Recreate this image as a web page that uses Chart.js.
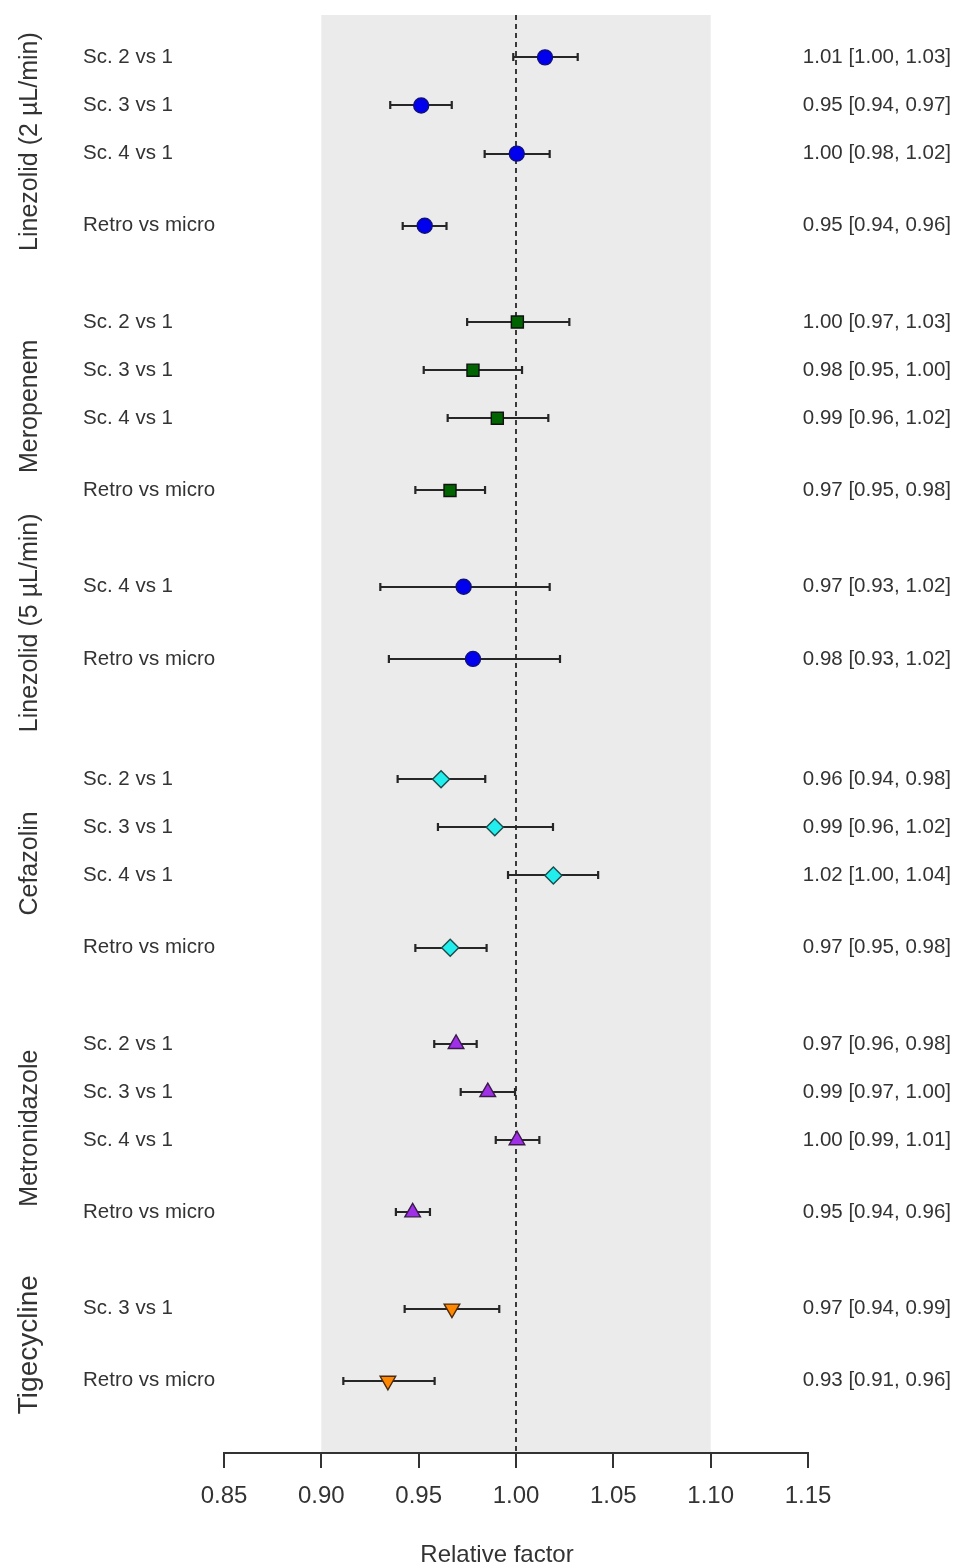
<!DOCTYPE html>
<html>
<head>
<meta charset="utf-8">
<title>Relative factor forest plot</title>
<script src="https://cdn.jsdelivr.net/npm/chart.js@4/dist/chart.umd.min.js"></script>
<style>
  html, body { margin: 0; padding: 0; background: #ffffff; }
  #wrap { width: 956px; height: 1567px; position: relative; }
</style>
</head>
<body>
<div id="wrap"><canvas id="forest" width="956" height="1567"></canvas></div>
<script>
// ---- data ----
const drugs = ['Linezolid (2 µL/min)', 'Meropenem', 'Linezolid (5 µL/min)', 'Cefazolin', 'Metronidazole', 'Tigecycline'];

const comparisons = [
  'Sc. 2 vs 1', 'Sc. 3 vs 1', 'Sc. 4 vs 1', 'Retro vs micro',
  'Sc. 2 vs 1', 'Sc. 3 vs 1', 'Sc. 4 vs 1', 'Retro vs micro',
  'Sc. 4 vs 1', 'Retro vs micro',
  'Sc. 2 vs 1', 'Sc. 3 vs 1', 'Sc. 4 vs 1', 'Retro vs micro',
  'Sc. 2 vs 1', 'Sc. 3 vs 1', 'Sc. 4 vs 1', 'Retro vs micro',
  'Sc. 3 vs 1', 'Retro vs micro'
];

// drug index of each row
const rowDrug = [0, 0, 0, 0, 1, 1, 1, 1, 2, 2, 3, 3, 3, 3, 4, 4, 4, 4, 5, 5];

// row slot on the vertical axis (top = 0)
const rowPos = [0, 1, 2, 3.5, 5.5, 6.5, 7.5, 9, 11, 12.5, 15, 16, 17, 18.5, 20.5, 21.5, 22.5, 24, 26, 27.5];

const estimate = [
  1.0149, 0.9513, 1.0004, 0.9531,
  1.0007, 0.9779, 0.9904, 0.9661,
  0.9731, 0.9779,
  0.9615, 0.9891, 1.0192, 0.9662,
  0.9692, 0.9855, 1.0005, 0.9469,
  0.9671, 0.9342
];
const lower = [
  0.9986, 0.9354, 0.9839, 0.9418,
  0.9749, 0.9526, 0.9649, 0.9483,
  0.9303, 0.9347,
  0.9392, 0.9599, 0.9959, 0.9483,
  0.9580, 0.9716, 0.9896, 0.9383,
  0.9428, 0.9113
];
const upper = [
  1.0317, 0.9670, 1.0173, 0.9643,
  1.0274, 1.0031, 1.0166, 0.9841,
  1.0173, 1.0226,
  0.9842, 1.0190, 1.0422, 0.9849,
  0.9798, 0.9995, 1.0120, 0.9558,
  0.9914, 0.9582
];

const tickValues = [0.85, 0.90, 0.95, 1.00, 1.05, 1.10, 1.15];
const tickLabels = ['0.85', '0.90', '0.95', '1.00', '1.05', '1.10', '1.15'];
const refValue = 1.00;
const marginLow = 0.90;
const marginHigh = 1.10;
const xTitle = 'Relative factor';

// ---- styles per drug ----
const FONT = '"Liberation Sans", Arial, Helvetica, sans-serif';
const drugStyle = [
  { pointStyle: 'circle',   rotation: 0,   radius: 7.5, fill: '#0000EE', edge: '#10107a' },
  { pointStyle: 'rect',     rotation: 0,   radius: 8.5, fill: '#006400', edge: '#111111' },
  { pointStyle: 'circle',   rotation: 0,   radius: 7.5, fill: '#0000EE', edge: '#10107a' },
  { pointStyle: 'rectRot',  rotation: 0,   radius: 8.5, fill: '#22EEEE', edge: '#1d4a4a' },
  { pointStyle: 'triangle', rotation: 0,   radius: 9,   fill: '#A030E8', edge: '#3a1a4a' },
  { pointStyle: 'triangle', rotation: 180, radius: 9,   fill: '#FF8800', edge: '#4a2a10' }
];
const groupFontSize = [25, 25, 25, 25, 25, 28];

const fmt = v => v.toFixed(2);

const datasets = drugs.map((name, d) => {
  const st = drugStyle[d];
  const pts = [];
  rowPos.forEach((p, i) => { if (rowDrug[i] === d) pts.push({ x: estimate[i], y: p }); });
  return {
    label: name,
    data: pts,
    pointStyle: st.pointStyle,
    rotation: st.rotation,
    pointRadius: st.radius,
    pointBackgroundColor: st.fill,
    pointBorderColor: st.edge,
    pointBorderWidth: 1.4,
    showLine: false
  };
});

const forestDecor = {
  id: 'forestDecor',
  beforeDraw(chart) {
    const { ctx, chartArea: a, scales: { x } } = chart;
    ctx.save();
    // equivalence band
    const bx0 = x.getPixelForValue(marginLow);
    const bx1 = x.getPixelForValue(marginHigh);
    ctx.fillStyle = '#EBEBEB';
    ctx.fillRect(bx0, a.top, bx1 - bx0, a.bottom - a.top);
    // reference line
    const rx = Math.round(x.getPixelForValue(refValue));
    ctx.strokeStyle = '#3a3a3a';
    ctx.lineWidth = 2;
    ctx.setLineDash([5, 4]);
    ctx.beginPath();
    ctx.moveTo(rx, a.top);
    ctx.lineTo(rx, a.bottom);
    ctx.stroke();
    ctx.restore();
  },
  beforeDatasetsDraw(chart) {
    const { ctx, scales: { x, y } } = chart;
    ctx.save();
    ctx.strokeStyle = '#262626';
    ctx.lineWidth = 2.2;
    rowPos.forEach((p, i) => {
      const py = Math.round(y.getPixelForValue(p));
      const x0 = x.getPixelForValue(lower[i]);
      const x1 = x.getPixelForValue(upper[i]);
      ctx.beginPath();
      ctx.moveTo(x0, py); ctx.lineTo(x1, py);
      ctx.moveTo(x0, py - 4); ctx.lineTo(x0, py + 4);
      ctx.moveTo(x1, py - 4); ctx.lineTo(x1, py + 4);
      ctx.stroke();
    });
    ctx.restore();
  },
  afterDraw(chart) {
    const { ctx, scales: { x, y } } = chart;
    ctx.save();
    ctx.fillStyle = '#333333';
    ctx.textBaseline = 'middle';
    // comparison names and estimates with CI
    ctx.font = '20.5px ' + FONT;
    rowPos.forEach((p, i) => {
      const py = y.getPixelForValue(p);
      ctx.textAlign = 'left';
      ctx.fillText(comparisons[i], 83, py);
      ctx.textAlign = 'right';
      ctx.fillText(fmt(estimate[i]) + ' [' + fmt(lower[i]) + ', ' + fmt(upper[i]) + ']', 951, py);
    });
    // drug names, rotated
    drugs.forEach((name, d) => {
      const rows = rowPos.filter((p, i) => rowDrug[i] === d);
      const cy = (y.getPixelForValue(rows[0]) + y.getPixelForValue(rows[rows.length - 1])) / 2;
      ctx.save();
      ctx.translate(37, cy);
      ctx.rotate(-Math.PI / 2);
      ctx.textAlign = 'center';
      ctx.textBaseline = 'alphabetic';
      ctx.font = groupFontSize[d] + 'px ' + FONT;
      ctx.fillText(name, 0, 0);
      ctx.restore();
    });
    // axis title
    ctx.textAlign = 'center';
    ctx.textBaseline = 'middle';
    ctx.font = '24px ' + FONT;
    ctx.fillText(xTitle, 497, 1555);
    ctx.restore();
  }
};

new Chart(document.getElementById('forest'), {
  type: 'scatter',
  data: { datasets },
  options: {
    responsive: false,
    animation: false,
    devicePixelRatio: 1,
    layout: { padding: { left: 224, right: 148, top: 15, bottom: 0 } },
    plugins: { legend: { display: false }, tooltip: { enabled: false } },
    scales: {
      x: {
        type: 'linear',
        position: 'bottom',
        min: 0.85,
        max: 1.15,
        afterBuildTicks: s => { s.ticks = tickValues.map(v => ({ value: v })); },
        afterFit: s => { s.height = 114; },
        grid: { display: true, drawOnChartArea: false, drawTicks: true, tickLength: 15, color: '#333333', lineWidth: 2 },
        border: { display: true, color: '#333333', width: 2 },
        ticks: {
          callback: (v, i) => tickLabels[i],
          font: { family: FONT, size: 24 },
          color: '#333333',
          padding: 14,
          maxRotation: 0,
          autoSkip: false
        }
      },
      y: {
        type: 'linear',
        display: false,
        reverse: true,
        min: -0.88,
        max: 29
      }
    }
  },
  plugins: [forestDecor]
});
</script>
</body>
</html>
